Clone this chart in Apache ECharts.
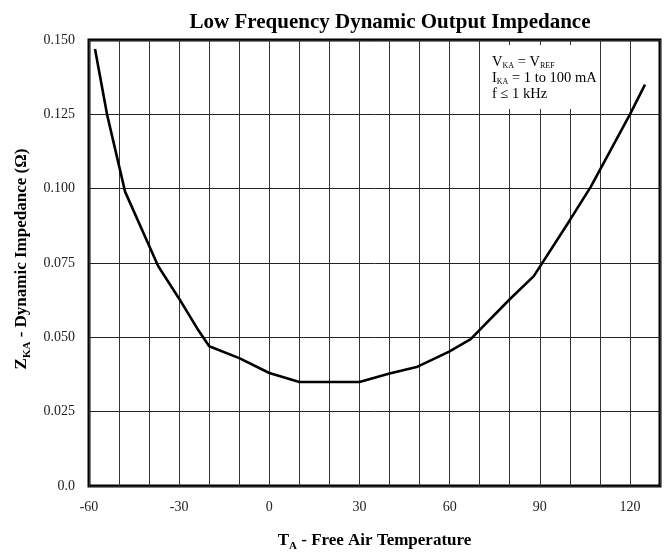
<!DOCTYPE html>
<html>
<head>
<meta charset="utf-8">
<script src="https://cdn.jsdelivr.net/npm/echarts@6/dist/echarts.min.js"></script>
<style>
  html, body { margin: 0; padding: 0; background: #fff; }
  #chart { width: 666px; height: 557px; }
</style>
</head>
<body>
<div id="chart"></div>
<script>
// temperature (°C) and dynamic impedance (ohm)
const temps = [-58, -54, -48, -37, -30, -24, -20, -10, 0, 10, 20, 30, 40, 49, 60, 67, 80, 88, 100, 107, 120, 125];
const impedance = [0.147, 0.125, 0.099, 0.074, 0.063, 0.053, 0.047, 0.043, 0.038, 0.035, 0.035, 0.035, 0.0378, 0.040, 0.0453, 0.0494, 0.0628, 0.0706, 0.0894, 0.1007, 0.125, 0.135];
const xLabels = [-60, -30, 0, 30, 60, 90, 120];

const serif = "Liberation Serif";
const chart = echarts.init(document.getElementById("chart"));

const option = {
  animation: false,
  title: {
    text: "Low Frequency Dynamic Output Impedance",
    left: 385,
    textAlign: "center",
    top: 7,
    textStyle: { fontFamily: serif, fontSize: 21, fontWeight: "bold", color: "#000" },
  },
  grid: {
    left: 89,
    right: 6,
    top: 40,
    bottom: 66,
    show: true,
    borderColor: "#000",
    borderWidth: 3,
  },
  xAxis: {
    type: "value",
    min: -60,
    max: 130,
    interval: 10,
    axisLine: { show: false },
    axisTick: { show: false },
    axisLabel: {
      fontFamily: serif,
      fontSize: 14,
      color: "#222",
      margin: 14,
      showMaxLabel: false,
      formatter: (v) => (xLabels.includes(v) ? String(v) : ""),
    },
    splitLine: { show: true, lineStyle: { color: "#333", width: 1 } },
    name: "{b|T}{s|A}{b| - Free Air Temperature}",
    nameLocation: "middle",
    nameGap: 44,
    nameTextStyle: {
      rich: {
        b: { fontFamily: serif, fontSize: 17, fontWeight: "bold", color: "#000" },
        s: { fontFamily: serif, fontSize: 11, fontWeight: "bold", color: "#000", padding: [11, 0, 0, 0] },
      },
    },
  },
  yAxis: {
    type: "value",
    min: 0,
    max: 0.15,
    interval: 0.025,
    axisLine: { show: false },
    axisTick: { show: false },
    axisLabel: {
      fontFamily: serif,
      fontSize: 14,
      color: "#222",
      margin: 14,
      formatter: (v) => (v === 0 ? "0.0" : v.toFixed(3)),
    },
    splitLine: { show: true, lineStyle: { color: "#222", width: 1 } },
    name: "{b|Z}{s|KA}{b| - Dynamic Impedance (Ω)}",
    nameLocation: "middle",
    nameGap: 56,
    nameTextStyle: {
      padding: [0, 0, 0, 8],
      rich: {
        b: { fontFamily: serif, fontSize: 17, fontWeight: "bold", color: "#000" },
        s: { fontFamily: serif, fontSize: 11, fontWeight: "bold", color: "#000", padding: [11, 0, 0, 0] },
      },
    },
  },
  graphic: [
    {
      type: "text",
      left: 490,
      top: 45,
      z: 10,
      style: {
        text: "{n|V}{s|KA}{n| = V}{s|REF}\n{n|I}{s|KA}{n| = 1 to 100 mA}\n{n|f ≤ 1 kHz}",
        backgroundColor: "#fff",
        padding: [9, 1, 7, 2],
        rich: {
          n: { fontFamily: serif, fontSize: 14.5, color: "#111", lineHeight: 16 },
          s: { fontFamily: serif, fontSize: 8, color: "#111", lineHeight: 16, padding: [8, 0, 0, 0] },
        },
      },
    },
  ],
  series: [
    {
      type: "line",
      data: temps.map((t, i) => [t, impedance[i]]),
      symbol: "none",
      lineStyle: { color: "#000", width: 2.6 },
      z: 5,
    },
  ],
};

chart.setOption(option);
</script>
</body>
</html>
